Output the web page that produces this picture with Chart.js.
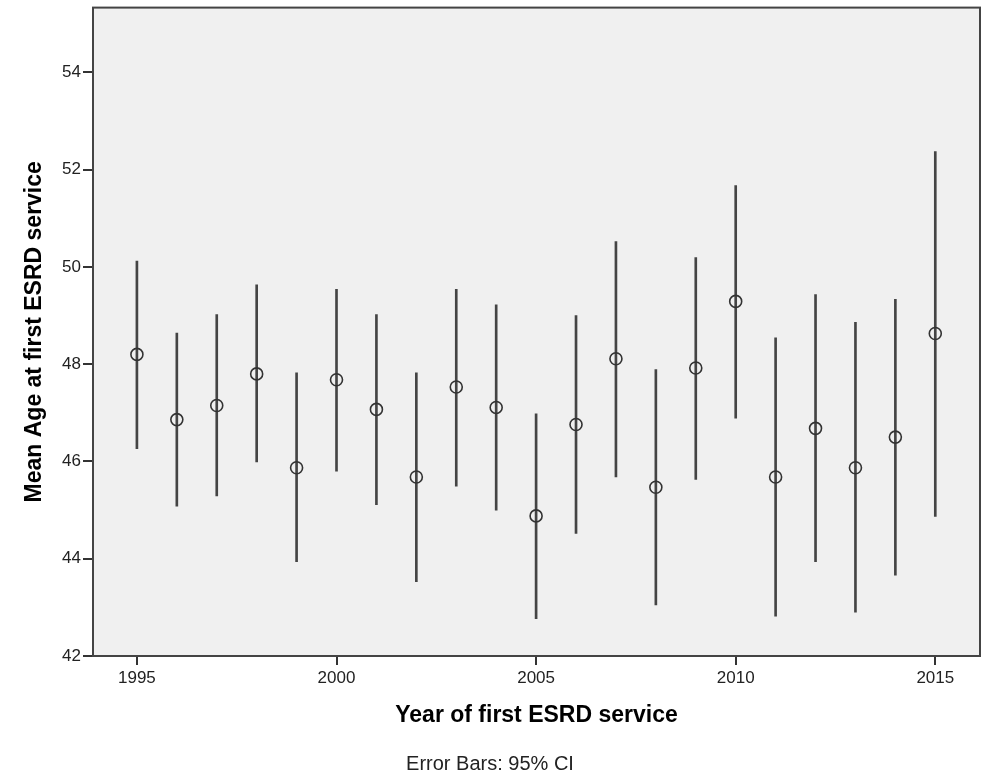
<!DOCTYPE html>
<html>
<head>
<meta charset="utf-8">
<script src="https://cdn.jsdelivr.net/npm/chart.js@4.4.1/dist/chart.umd.min.js"></script>
<style>
  body { margin: 0; background: #fff; }
  #wrap { width: 991px; height: 776px; position: relative; }
</style>
</head>
<body>
<div id="wrap"><canvas id="errplot"></canvas></div>
<script>
const years = [1995, 1996, 1997, 1998, 1999, 2000, 2001, 2002, 2003, 2004, 2005,
               2006, 2007, 2008, 2009, 2010, 2011, 2012, 2013, 2014, 2015];
const means = [48.20, 46.86, 47.15, 47.80, 45.87, 47.68, 47.07, 45.68, 47.53, 47.11, 44.88,
               46.76, 48.11, 45.47, 47.92, 49.29, 45.68, 46.68, 45.87, 46.50, 48.63];
const ciLow = [46.26, 45.08, 45.29, 45.99, 43.94, 45.80, 45.11, 43.53, 45.49, 45.00, 42.77,
               44.52, 45.68, 43.05, 45.63, 46.89, 42.82, 43.94, 42.90, 43.66, 44.87];
const ciHigh = [50.12, 48.64, 49.02, 49.63, 47.82, 49.54, 49.02, 47.82, 49.54, 49.22, 46.98,
                49.00, 50.52, 47.89, 50.19, 51.67, 48.54, 49.43, 48.86, 49.33, 52.37];
const xTicks = [1995, 2000, 2005, 2010, 2015];
const yTicks = [42, 44, 46, 48, 50, 52, 54];

const ctx = document.querySelector("#errplot").getContext('2d');

// grey plot background + frame around the chart area
const frame = {
  id: 'frame',
  beforeDraw(chart) {
    const {ctx, chartArea: a} = chart;
    ctx.save();
    ctx.fillStyle = '#ffffff';
    ctx.fillRect(0, 0, chart.width, chart.height);
    ctx.fillStyle = '#f0f0f0';
    ctx.fillRect(a.left, a.top, a.right - a.left, a.bottom - a.top);
    ctx.restore();
  },
  afterDraw(chart) {
    const {ctx, chartArea: a} = chart;
    ctx.save();
    ctx.strokeStyle = '#444';
    ctx.lineWidth = 2;
    ctx.strokeRect(a.left, a.top, a.right - a.left, a.bottom - a.top);
    ctx.restore();
  }
};

new Chart(ctx, {
  type: 'scatter',
  data: {
    datasets: [
      {
        type: 'scatter',
        data: years.map((y, i) => ({x: y, y: means[i]})),
        pointStyle: 'circle',
        pointRadius: 6,
        pointHoverRadius: 6,
        borderColor: '#333',
        borderWidth: 1.6,
        backgroundColor: 'rgba(0,0,0,0)'
      },
      {
        type: 'bar',
        data: years.map((y, i) => ({x: y, y: [ciLow[i], ciHigh[i]]})),
        backgroundColor: '#444',
        borderWidth: 0,
        barThickness: 2
      }
    ]
  },
  plugins: [frame],
  options: {
    responsive: true,
    maintainAspectRatio: false,
    animation: false,
    layout: { padding: { top: 7, right: 11, left: 0, bottom: 0 } },
    plugins: {
      legend: { display: false },
      tooltip: { enabled: false },
      title: {
        display: true,
        position: 'bottom',
        text: 'Error Bars: 95% CI',
        color: '#222',
        font: { family: 'Liberation Sans', size: 20, weight: 'normal', lineHeight: 1.2 },
        padding: { top: 0, bottom: 0 }
      }
    },
    scales: {
      x: {
        type: 'linear',
        min: 1993.9,
        max: 2016.12,
        offset: false,
        afterBuildTicks: (s) => { s.ticks = xTicks.map(v => ({value: v})); },
        afterFit: (s) => { s.height = 96; s.paddingLeft = 0; s.paddingRight = 0; },
        ticks: {
          color: '#222',
          padding: 3,
          font: { family: 'Liberation Sans', size: 17 },
          callback: (v) => String(v)
        },
        grid: { offset: false, drawOnChartArea: false, tickLength: 9, color: '#333', lineWidth: 2 },
        border: { display: false },
        title: {
          display: true,
          text: 'Year of first ESRD service',
          color: '#000',
          font: { family: 'Liberation Sans', size: 23, weight: 'bold', lineHeight: 1.2 },
          padding: { top: 0, bottom: 23 }
        }
      },
      y: {
        min: 42,
        max: 55.33,
        afterBuildTicks: (s) => { s.ticks = yTicks.map(v => ({value: v})); },
        afterFit: (s) => { s.width = 93; s.paddingTop = 0; s.paddingBottom = 0; },
        ticks: {
          color: '#222',
          padding: 2,
          font: { family: 'Liberation Sans', size: 17 }
        },
        grid: { drawOnChartArea: false, tickLength: 10, color: '#333', lineWidth: 2 },
        border: { display: false },
        title: {
          display: true,
          text: 'Mean Age at first ESRD service',
          color: '#000',
          font: { family: 'Liberation Sans', size: 23, weight: 'bold', lineHeight: 1.2 },
          padding: { top: 21, bottom: 0 }
        }
      }
    }
  }
});
</script>
</body>
</html>
